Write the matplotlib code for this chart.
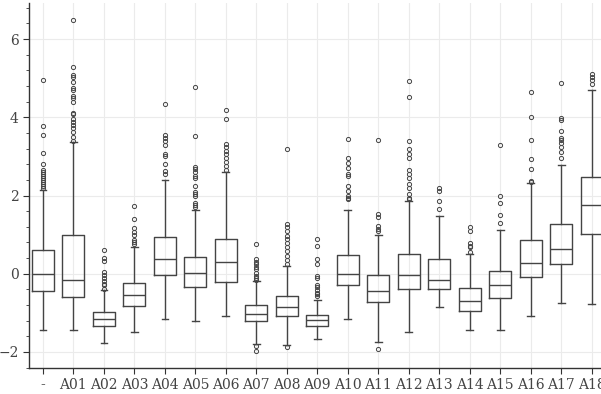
import matplotlib

matplotlib.use("Agg")
import matplotlib.pyplot as plt
from matplotlib.ticker import AutoMinorLocator

# --- data -------------------------------------------------------------------
groups = ["-"] + [f"A{i:02d}" for i in range(1, 19)]

q1 = [-0.44, -0.60, -1.33, -0.82, -0.03, -0.34, -0.21, -1.21, -1.07, -1.33,
      -0.30, -0.72, -0.39, -0.39, -0.94, -0.63, -0.08, 0.25, 1.01]
med = [0.00, -0.16, -1.16, -0.54, 0.37, 0.02, 0.30, -1.02, -0.86, -1.19,
       0.00, -0.43, -0.03, -0.15, -0.70, -0.29, 0.28, 0.64, 1.75]
q3 = [0.60, 0.98, -0.98, -0.23, 0.94, 0.44, 0.90, -0.81, -0.57, -1.05,
      0.47, -0.03, 0.51, 0.37, -0.37, 0.08, 0.87, 1.26, 2.48]
whislo = [-1.43, -1.43, -1.77, -1.48, -1.15, -1.22, -1.09, -1.80, -1.81, -1.67,
          -1.16, -1.74, -1.48, -0.84, -1.44, -1.45, -1.08, -0.75, -0.77]
whishi = [2.15, 3.38, -0.42, 0.68, 2.40, 1.62, 2.61, -0.18, 0.21, -0.66,
          1.62, 1.00, 1.86, 1.48, 0.50, 1.12, 2.31, 2.79, 4.70]
fliers = [
    [4.95, 3.78, 3.56, 3.10, 2.80, 2.65, 2.60, 2.55, 2.50, 2.45, 2.40, 2.35,
     2.30, 2.25, 2.20],
    [6.48, 5.28, 5.07, 5.03, 4.90, 4.75, 4.70, 4.55, 4.50, 4.40, 4.10, 4.08,
     3.95, 3.88, 3.80, 3.72, 3.62, 3.50, 3.40],
    [0.61, 0.40, 0.33, 0.05, -0.03, -0.10, -0.18, -0.25, -0.30, -0.38],
    [1.73, 1.40, 1.17, 1.08, 0.98, 0.87, 0.80, 0.75],
    [4.35, 3.55, 3.48, 3.40, 3.30, 3.07, 3.00, 2.80, 2.62, 2.55],
    [4.78, 3.53, 2.72, 2.68, 2.60, 2.50, 2.45, 2.25, 2.10, 2.05, 2.00, 1.80,
     1.75, 1.70],
    [4.18, 3.95, 3.32, 3.25, 3.15, 3.05, 2.95, 2.85, 2.75, 2.65],
    [0.77, 0.38, 0.30, 0.25, 0.18, 0.12, 0.02, -0.05, -0.10, -0.15, -1.86, -1.97],
    [3.20, 1.27, 1.20, 1.10, 0.97, 0.88, 0.78, 0.68, 0.58, 0.45, 0.35, 0.25,
     -1.88],
    [0.90, 0.72, 0.38, 0.25, -0.05, -0.12, -0.28, -0.35, -0.42, -0.48, -0.52,
     -0.58],
    [3.45, 2.95, 2.82, 2.70, 2.55, 2.50, 2.25, 2.12, 2.00, 1.95, 1.92],
    [3.42, 1.52, 1.45, 1.22, 1.15, 1.10, -1.92],
    [4.93, 4.52, 3.40, 3.20, 3.05, 2.95, 2.65, 2.55, 2.45, 2.30, 2.20, 2.05,
     1.95, 1.90],
    [2.20, 2.12, 1.85, 1.65],
    [1.20, 1.10, 0.78, 0.72, 0.68, 0.55],
    [3.30, 2.00, 1.80, 1.50, 1.30],
    [4.65, 4.00, 3.42, 2.93, 2.67, 2.38, 2.35],
    [4.87, 3.98, 3.93, 3.65, 3.48, 3.42, 3.35, 3.25, 3.12, 2.95],
    [5.11, 5.02, 4.95, 4.85],
]

# ---------------------------------------------------------------------------
plt.rcParams.update({"font.family": ["DejaVu Serif"], "font.size": 10})

stats = [
    {"label": g, "q1": a, "med": m, "q3": b, "whislo": lo, "whishi": hi,
     "fliers": f}
    for g, a, m, b, lo, hi, f in zip(groups, q1, med, q3, whislo, whishi, fliers)
]

fig = plt.figure(figsize=(6.01, 3.94), dpi=100)
ax = fig.add_axes([0.048, 0.066, 0.96, 0.926])

line = "#444444"
ax.bxp(
    stats,
    positions=range(len(groups)),
    widths=0.72,
    capwidths=0.22,
    boxprops=dict(color=line, linewidth=1.0),
    medianprops=dict(color=line, linewidth=1.0),
    whiskerprops=dict(color=line, linewidth=1.0),
    capprops=dict(color=line, linewidth=1.0),
    flierprops=dict(marker="o", markersize=3, markerfacecolor="none",
                    markeredgecolor=line, markeredgewidth=0.7),
)

ax.set_xlim(-0.46, 18.46)
ax.set_ylim(-2.41, 6.92)
ax.set_xticks(range(len(groups)))
ax.set_xticklabels(groups)
ax.set_yticks([-2, 0, 2, 4, 6])
ax.yaxis.set_minor_locator(AutoMinorLocator(5))

ax.grid(True, color="#ebebeb", linewidth=0.8)
ax.set_axisbelow(True)
for side in ("top", "right"):
    ax.spines[side].set_visible(False)
for side in ("left", "bottom"):
    ax.spines[side].set_color("#333333")
    ax.spines[side].set_linewidth(1.0)
ax.tick_params(which="major", length=4, color="#333333", labelcolor="#444444",
               labelsize=10)
ax.tick_params(which="minor", length=2.5, color="#333333")

fig.savefig("out.png", dpi=100)
plt.close(fig)
